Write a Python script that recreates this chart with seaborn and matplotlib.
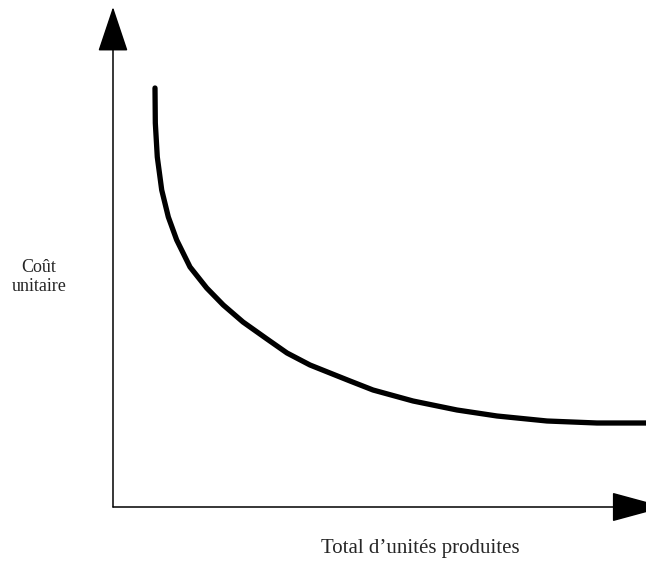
import numpy as np
import pandas as pd
import seaborn as sns
import matplotlib.pyplot as plt

# curve (arbitrary units, origin at the axes corner)
total_unites = [7.88, 7.94, 8.31, 9.14, 10.38, 11.95, 14.45, 17.58, 20.69, 24.39, 28.89,
                32.65, 36.96, 40.71, 44.47, 48.78, 56.29, 64.54, 72.05, 81.43, 90.81, 100.0]
cout_unitaire = [83.8, 76.8, 70.0, 63.4, 58.0, 53.4, 48.0, 43.8, 40.4, 37.0, 33.6,
                 30.8, 28.4, 26.8, 25.2, 23.4, 21.2, 19.4, 18.2, 17.2, 16.8, 16.8]

x_label = "Total d\u2019unités produites"
y_label = "Coût\nunitaire"

df = pd.DataFrame({"x": total_unites, "y": cout_unitaire})

sns.set_style("white")
plt.rcParams['font.family'] = ['Liberation Serif', 'DejaVu Serif']

fig = plt.figure(figsize=(6.46, 5.64), dpi=100)
ax = fig.add_axes([0, 0, 1, 1])

sns.lineplot(data=df, x="x", y="y", color="black", linewidth=3.8, ax=ax,
             solid_capstyle="round", solid_joinstyle="round")

ax.set_xlim(-21.2, 100)
ax.set_ylim(-11.4, 101.4)
ax.axis("off")

# axes with arrow heads
ax.annotate("", xy=(0, 100), xytext=(0, 0),
            arrowprops=dict(arrowstyle="-|>,head_length=2.9,head_width=0.97",
                            mutation_scale=10, color="black", lw=1.1,
                            shrinkA=0, shrinkB=0))
ax.annotate("", xy=(103.6, 0), xytext=(0, 0), annotation_clip=False,
            arrowprops=dict(arrowstyle="-|>,head_length=3.5,head_width=0.95",
                            mutation_scale=10, color="black", lw=1.1,
                            shrinkA=0, shrinkB=0))

fig.text(420 / 646, 1 - 548 / 564, x_label, fontsize=15, ha="center", va="center")
fig.text(39 / 646, 1 - 277 / 564, y_label, fontsize=13, ha="center", va="center",
         linespacing=1.15)

plt.savefig("out.png", dpi=100)
